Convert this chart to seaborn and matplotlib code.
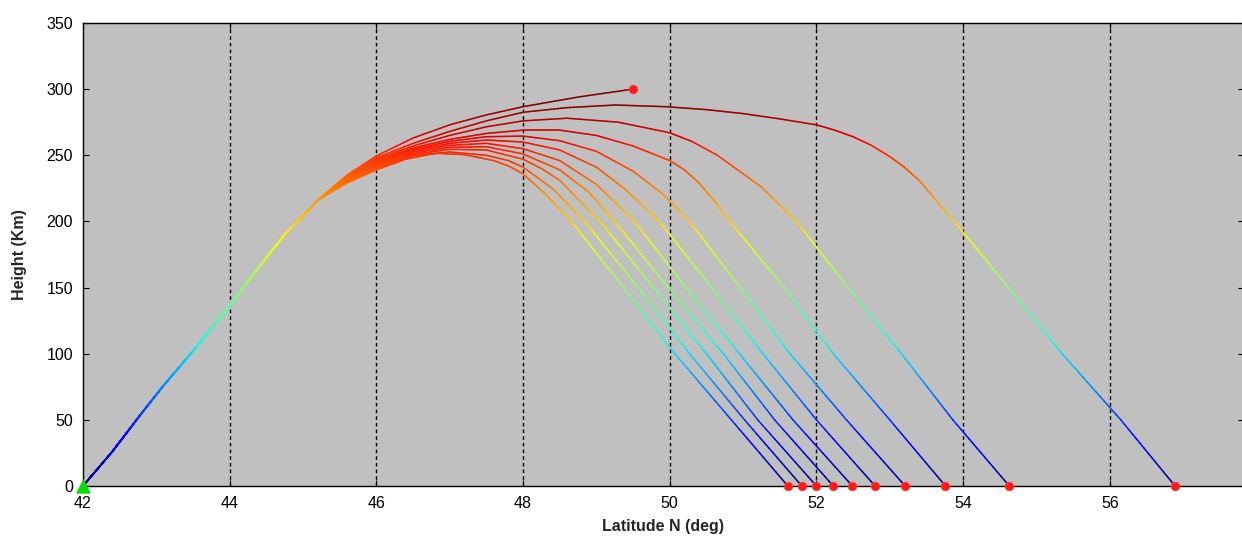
import numpy as np
import pandas as pd
import matplotlib
matplotlib.use("Agg")
import matplotlib.pyplot as plt
from matplotlib.collections import LineCollection
import seaborn as sns

# =========================
# DATA
# =========================

# shared ascent from the launch point
asc_lat = [42.0, 42.4, 42.8, 43.1, 43.5, 44.0, 44.35, 44.75, 45.2]
asc_h = [0, 26, 55, 76, 102, 136, 162, 190, 216]

# each trajectory after it leaves the shared ascent
lat_1 = [45.6, 46.0, 46.4, 46.8, 47.2, 47.6, 47.8, 48.0, 48.3, 48.66, 49.37, 50.07, 50.84, 51.61]
h_1 = [229, 239, 247, 251.5, 250.5, 246, 242, 236, 221, 200, 150, 100, 50, 0]

lat_2 = [45.6, 46.0, 46.5, 47.0, 47.5, 47.8, 48.0, 48.4, 48.84, 49.57, 50.27, 51.02, 51.80]
h_2 = [229.6, 240, 249.5, 252.5, 250, 246, 241, 225, 200, 150, 100, 50, 0]

lat_3 = [45.6, 46.0, 46.5, 47.0, 47.5, 48.0, 48.25, 48.5, 49.05, 49.78, 50.50, 51.20, 52.00]
h_3 = [230.2, 241, 250.5, 254.5, 254, 247, 240, 231, 200, 150, 100, 50, 0]

lat_4 = [45.6, 46.0, 46.5, 47.0, 47.5, 48.0, 48.5, 48.9, 49.25, 49.98, 50.73, 51.43, 52.23]
h_4 = [230.8, 242, 251.5, 256, 256.5, 251, 239, 222, 200, 150, 100, 50, 0]

lat_5 = [45.6, 46.0, 46.5, 47.0, 47.5, 48.0, 48.5, 49.0, 49.52, 50.22, 50.95, 51.68, 52.49]
h_5 = [231.4, 243, 252.5, 257.5, 259, 255, 246, 228, 200, 150, 100, 50, 0]

lat_6 = [45.6, 46.0, 46.5, 47.0, 47.5, 48.0, 48.5, 49.0, 49.4, 49.86, 50.57, 51.27, 52.00, 52.80]
h_6 = [232, 244, 253.5, 259, 261.5, 260, 254, 241, 224, 200, 150, 100, 50, 0]

lat_7 = [45.6, 46.0, 46.5, 47.0, 47.5, 48.0, 48.5, 49.0, 49.5, 49.9, 50.27, 50.96, 51.64, 52.41, 53.21]
h_7 = [232.6, 245, 254.5, 260.5, 264, 264.5, 261, 253, 238, 221, 200, 150, 100, 50, 0]

lat_8 = [45.6, 46.0, 46.5, 47.0, 47.5, 48.0, 48.5, 49.0, 49.5, 50.0, 50.2, 50.4, 50.6, 50.82,
         51.56, 52.23, 53.00, 53.76]
h_8 = [233.2, 246, 255.5, 262, 266.5, 269, 269, 265, 257, 246, 239, 229, 216, 200,
       150, 100, 50, 0]

lat_9 = [45.6, 46.0, 46.5, 47.0, 47.5, 48.0, 48.6, 49.3, 50.0, 50.3, 50.65, 51.25, 51.73,
         52.43, 53.16, 53.86, 54.63]
h_9 = [233.8, 247, 257, 265, 271.5, 276, 278, 275, 267, 260.5, 250, 226, 200,
       150, 100, 50, 0]

lat_10 = [45.6, 46.0, 46.5, 47.0, 47.5, 48.0, 48.6, 49.26, 49.95, 50.5, 51.0, 51.5, 52.0,
          52.25, 52.5, 52.75, 53.0, 53.2, 53.4, 53.88, 54.62, 55.35, 56.15, 56.89]
h_10 = [234.4, 248, 259, 268, 276, 282.5, 286, 288, 286.7, 284.5, 281.5, 277.5, 273,
        269, 264, 257.5, 249, 241, 231, 200, 150, 100, 50, 0]

# the one that stops at its highest point
lat_11 = [45.6, 46.0, 46.5, 47.0, 47.5, 48.0, 48.75, 49.5]
h_11 = [235, 249.5, 263, 273, 280.5, 286.7, 294, 300]

trajectories = [(lat_1, h_1), (lat_2, h_2), (lat_3, h_3), (lat_4, h_4),
                (lat_5, h_5), (lat_6, h_6), (lat_7, h_7), (lat_8, h_8),
                (lat_9, h_9), (lat_10, h_10), (lat_11, h_11)]

# end points (red) and launch point (green)
end_lat = [51.61, 51.80, 52.00, 52.23, 52.49, 52.80, 53.21, 53.76, 54.63, 56.89, 49.5]
end_h = [0, 0, 0, 0, 0, 0, 0, 0, 0, 0, 300]
launch_lat = [42.0]
launch_h = [0]

x_ticks = [44, 46, 48, 50, 52, 54, 56]

# =========================
# STYLE
# =========================

sns.set_theme(style="ticks")
plt.rcParams['font.family'] = ['Liberation Sans', 'DejaVu Sans']

fig = plt.figure(figsize=(12.42, 5.38), dpi=100)
ax = fig.add_axes([0.0668, 0.0967, 0.9348, 0.8606])
ax.set_facecolor('#c0c0c0')

norm = plt.Normalize(0, 290)


def colour_segments(lat, h, steps=14):
    # split each straight piece so the colour can follow the height
    segs, mids = [], []
    for i in range(len(lat) - 1):
        t = np.linspace(0, 1, steps + 1)
        x = lat[i] + (lat[i + 1] - lat[i]) * t
        y = h[i] + (h[i + 1] - h[i]) * t
        pts = np.column_stack([x, y])
        segs.extend(np.stack([pts[:-1], pts[1:]], axis=1))
        mids.extend((y[:-1] + y[1:]) / 2)
    return segs, mids


for lat, h in trajectories:
    segs, mids = colour_segments(asc_lat + lat, asc_h + h)
    lc = LineCollection(segs, cmap='jet', norm=norm, linewidths=1.1,
                        capstyle='round', zorder=2)
    lc.set_array(np.array(mids))
    ax.add_collection(lc)

ends = pd.DataFrame({"lat": end_lat, "h": end_h})
sns.scatterplot(data=ends, x="lat", y="h", ax=ax, color='#ff1a1a', s=38,
                edgecolor='#ff4040', linewidth=0.6, zorder=4, clip_on=False)

launch = pd.DataFrame({"lat": launch_lat, "h": launch_h})
sns.scatterplot(data=launch, x="lat", y="h", ax=ax, marker='^', color='#00e000',
                s=90, edgecolor='#00e000', zorder=5, clip_on=False)

# =========================
# AXES
# =========================

ax.set_xlim(42, 57.83)
ax.set_ylim(0, 350)
ax.set_xticks([42] + x_ticks)
ax.set_yticks(range(0, 351, 50))

for xv in x_ticks:
    ax.axvline(xv, color='black', linestyle=(0, (2.6, 2.2)), linewidth=1.0, zorder=1)

for s in ax.spines.values():
    s.set_color('black')
    s.set_linewidth(1.0)
    s.set_visible(True)

ax.tick_params(direction='in', length=4, width=0.8, top=True, right=True,
               labelsize=11.5, colors='black')
ax.tick_params(axis='x', pad=7)
ax.tick_params(axis='y', pad=7)

ax.set_xlabel("Latitude N (deg)", fontsize=11.5, fontweight='bold', labelpad=6)
ax.set_ylabel("Height (Km)", fontsize=11.5, fontweight='bold', labelpad=14)

plt.savefig("out.png", dpi=100)
